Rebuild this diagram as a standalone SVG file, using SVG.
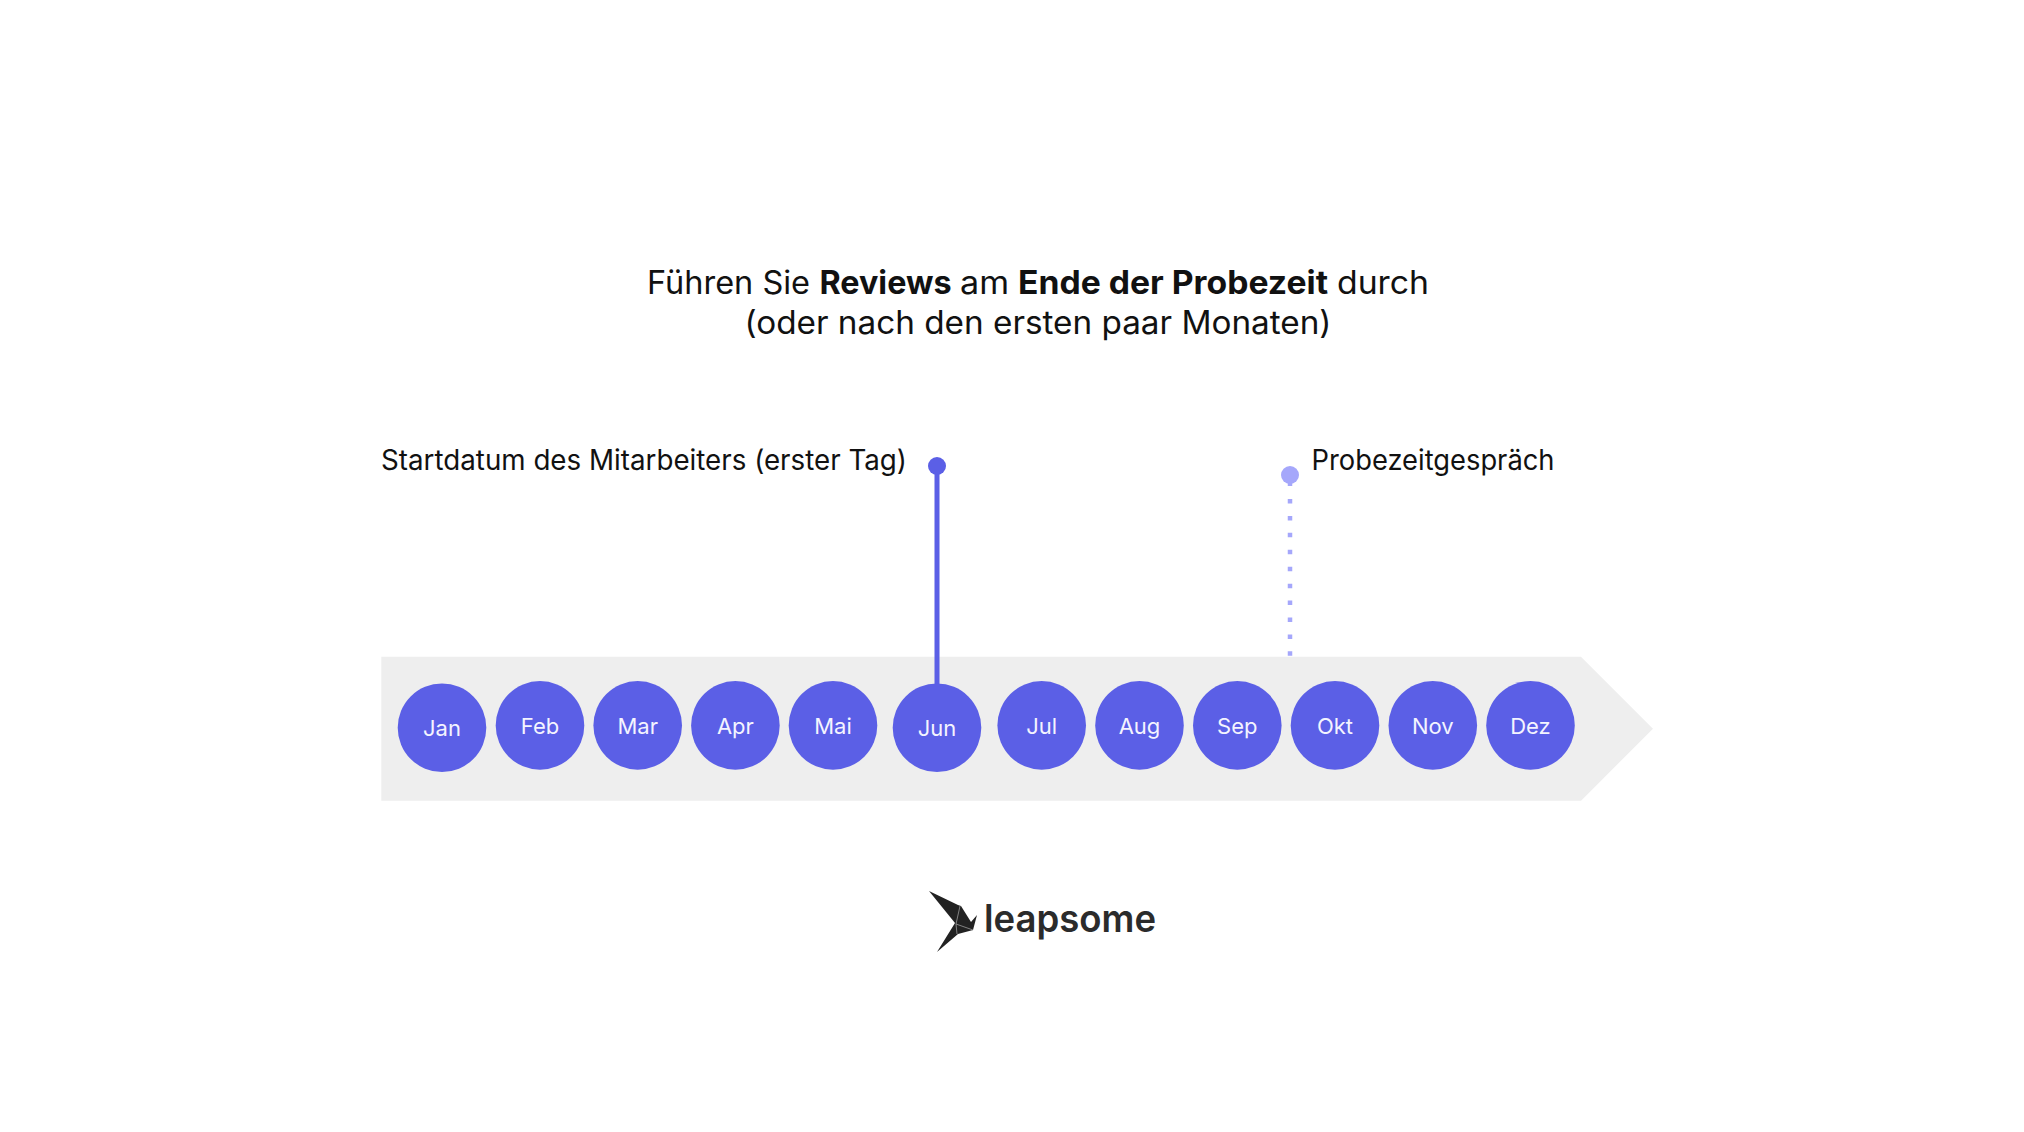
<svg xmlns="http://www.w3.org/2000/svg" width="2024" height="1132" viewBox="0 0 2024 1132">
<style>
text{font-family:"Inter","Noto Sans","Liberation Sans",sans-serif}
.t{font-size:32px;fill:#111}
.l{font-size:28px;fill:#111}
.m{font-size:22px;fill:#f4f4ff;text-anchor:middle}
.c{fill:#5b5fe6}
.b{font-weight:700}
</style>
<rect width="2024" height="1132" fill="#fff"/>
<g id="title">
<text class="t" y="294"><tspan x="647" textLength="163" lengthAdjust="spacingAndGlyphs">Führen Sie</tspan> <tspan class="b" x="819.500" textLength="132" lengthAdjust="spacingAndGlyphs">Reviews</tspan> <tspan x="960" textLength="49" lengthAdjust="spacingAndGlyphs">am</tspan> <tspan class="b" x="1018" textLength="310" lengthAdjust="spacingAndGlyphs">Ende der Probezeit</tspan> <tspan x="1337" textLength="92" lengthAdjust="spacingAndGlyphs">durch</tspan></text>
<text class="t" x="744.500" y="334" textLength="587" lengthAdjust="spacingAndGlyphs">(oder nach den ersten paar Monaten)</text>
</g>
<g id="timeline"><polygon points="381.300,656.700 1581,656.700 1653,728.700 1581,800.700 381.300,800.700" fill="#eeeeee"/></g>
<g id="connectors">
<line x1="937" y1="466" x2="937" y2="690" stroke="#5b5fe6" stroke-width="5"/>
<line x1="1290" y1="478" x2="1290" y2="486" stroke="#a5a7fb" stroke-width="4.500"/>
<line x1="1290" y1="499" x2="1290" y2="656.700" stroke="#a5a7fb" stroke-width="4.500" stroke-dasharray="4.500 12.430"/>
</g>
<g id="start-marker"><circle class="c" cx="937" cy="466" r="9"/><text class="l" x="381" y="470" textLength="526" lengthAdjust="spacingAndGlyphs">Startdatum des Mitarbeiters (erster Tag)</text></g>
<g id="review-marker"><circle cx="1290" cy="475" r="9" fill="#a5a7fb"/><text class="l" x="1311.500" y="470" textLength="243" lengthAdjust="spacingAndGlyphs">Probezeitgespräch</text></g>
<g id="jan"><circle class="c" cx="442" cy="727.700" r="44.300"/><text class="m" x="442" y="735.700">Jan</text></g>
<g id="feb"><circle class="c" cx="540" cy="725.400" r="44.300"/><text class="m" x="540" y="733.700">Feb</text></g>
<g id="mar"><circle class="c" cx="637.700" cy="725.400" r="44.300"/><text class="m" x="637.700" y="733.700">Mar</text></g>
<g id="apr"><circle class="c" cx="735.400" cy="725.400" r="44.300"/><text class="m" x="735.400" y="733.700">Apr</text></g>
<g id="mai"><circle class="c" cx="833" cy="725.400" r="44.300"/><text class="m" x="833" y="733.700">Mai</text></g>
<g id="jun"><circle class="c" cx="937" cy="727.700" r="44.300"/><text class="m" x="937" y="735.700">Jun</text></g>
<g id="jul"><circle class="c" cx="1041.700" cy="725.400" r="44.300"/><text class="m" x="1041.700" y="733.700">Jul</text></g>
<g id="aug"><circle class="c" cx="1139.500" cy="725.400" r="44.300"/><text class="m" x="1139.500" y="733.700">Aug</text></g>
<g id="sep"><circle class="c" cx="1237.300" cy="725.400" r="44.300"/><text class="m" x="1237.300" y="733.700">Sep</text></g>
<g id="okt"><circle class="c" cx="1335" cy="725.400" r="44.300"/><text class="m" x="1335" y="733.700">Okt</text></g>
<g id="nov"><circle class="c" cx="1432.800" cy="725.400" r="44.300"/><text class="m" x="1432.800" y="733.700">Nov</text></g>
<g id="dez"><circle class="c" cx="1530.500" cy="725.400" r="44.300"/><text class="m" x="1530.500" y="733.700">Dez</text></g>
<g id="logo">
<polygon points="929,891 958,905 961,906 971,922 977,915 973,930 958,934 937,952 955,923" fill="#222"/>
<path d="M960,906 L956,924 L973,930 M956,924 L957,934" fill="none" stroke="#999" stroke-width="0.800"/>
<text x="984" y="931.500" font-size="38" font-weight="600" fill="#2b2b2b" textLength="172" lengthAdjust="spacingAndGlyphs">leapsome</text>
</g>
</svg>
